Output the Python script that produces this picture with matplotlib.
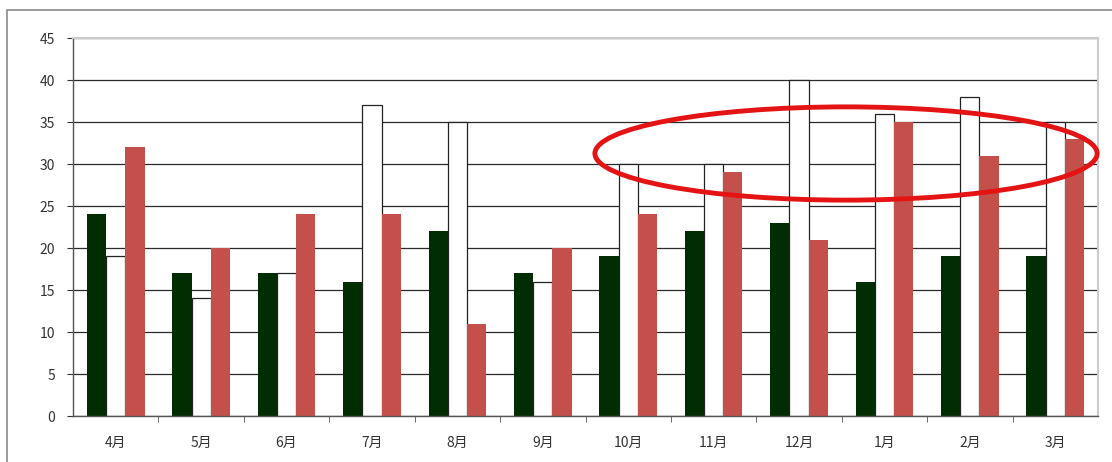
import matplotlib.pyplot as plt
import numpy as np
from matplotlib.patches import Ellipse, Rectangle

plt.rcParams['font.family'] = ['Noto Sans CJK JP', 'DejaVu Sans']

months = ['4月', '5月', '6月', '7月', '8月', '9月', '10月', '11月', '12月', '1月', '2月', '3月']
green = [24, 17, 17, 16, 22, 17, 19, 22, 23, 16, 19, 19]
white = [19, 14, 17, 37, 35, 16, 30, 30, 40, 36, 38, 35]
red = [32, 20, 24, 24, 11, 20, 24, 29, 21, 35, 31, 33]

W, H = 1112, 462
fig = plt.figure(figsize=(W / 100, H / 100), dpi=100)
fig.patch.set_facecolor('white')

# outer chart frame (runs off right and bottom edges)
fig.patches.append(Rectangle((7 / W, -0.1), 1.2, 1.1 - 10 / H, transform=fig.transFigure,
                             fill=False, edgecolor='#8a8a8a', linewidth=1.2))

ax = fig.add_axes([73 / W, 1 - 416 / H, (1098 - 73) / W, (416 - 38) / H])

x = np.arange(len(months))
w = 0.225
ax.bar(x - w, green, w, color='#022c02', zorder=2)
ax.bar(x, white, w, color='white', edgecolor='#222222', linewidth=0.9, zorder=2)
ax.bar(x + w, red, w, color='#c4504c', zorder=2)

ax.set_xlim(-0.5, len(months) - 0.5)
ax.set_ylim(0, 45)
ax.set_yticks(range(0, 46, 5))
ax.yaxis.grid(True, color='#2a2a2a', linewidth=0.9, zorder=0)
ax.set_axisbelow(True)

ax.set_xticks(x)
ax.set_xticklabels(months)
ax.set_xticks(np.arange(0.5, len(months) - 0.5, 1), minor=True)
ax.tick_params(axis='x', which='major', length=0, pad=14, labelsize=10, colors='#333333')
ax.tick_params(axis='x', which='minor', length=4, direction='out', color='#555555')
ax.tick_params(axis='y', length=4, direction='out', pad=9, labelsize=10, colors='#333333')

for side in ('top', 'right'):
    ax.spines[side].set_color('#cccccc')
    ax.spines[side].set_linewidth(1.5)
for side in ('left', 'bottom'):
    ax.spines[side].set_color('#555555')
    ax.spines[side].set_linewidth(1.0)

# highlight ring around the winter months
ax.add_patch(Ellipse((8.55, 31.25), 5.88, 11.1, fill=False, edgecolor='#e41414',
                     linewidth=3.5, zorder=5, clip_on=False))

fig.savefig('out.png', dpi=100)
